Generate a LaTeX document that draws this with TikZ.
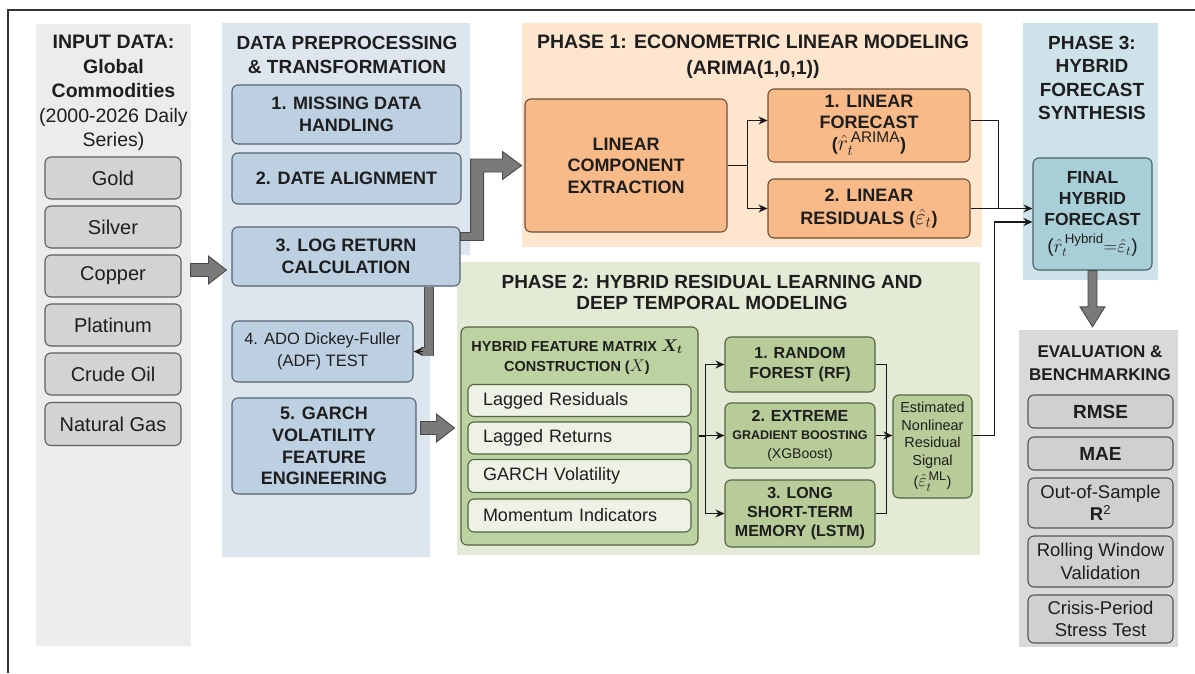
\RequirePackage{fix-cm}
\documentclass[tikz,border=0pt]{standalone}
\usepackage{amsmath}
\usepackage{fontspec}
\setmainfont{Liberation Sans}
\usetikzlibrary{arrows.meta,calc}
\newcommand\fs[2]{\fontsize{#1}{#2}\selectfont}
\definecolor{txt}{HTML}{1E1E1E}
\definecolor{inbgc}{HTML}{ECECEC}
\definecolor{infill}{HTML}{D3D3D3}
\definecolor{indraw}{HTML}{5E5E5E}
\definecolor{prebgc}{HTML}{DDE6EF}
\definecolor{prefill}{HTML}{BDD0E2}
\definecolor{predraw}{HTML}{56626E}
\definecolor{pabg}{HTML}{FDE5CE}
\definecolor{pafill}{HTML}{F7BA88}
\definecolor{padraw}{HTML}{6E4D35}
\definecolor{pbbg}{HTML}{E3EBD7}
\definecolor{pbfill}{HTML}{BDD2A1}
\definecolor{pbinner}{HTML}{EDF1E6}
\definecolor{pbmod}{HTML}{B7CC99}
\definecolor{pbdraw}{HTML}{53633F}
\definecolor{pcbg}{HTML}{CEE3E9}
\definecolor{pcfill}{HTML}{A8CED8}
\definecolor{pcdraw}{HTML}{466168}
\definecolor{evbgc}{HTML}{D9D9D9}
\definecolor{evfill}{HTML}{D0D0D0}
\definecolor{evdraw}{HTML}{555555}
\definecolor{arrfill}{HTML}{7A7A7A}
\definecolor{arrdark}{HTML}{4A4A4A}
% horizontal block arrow: y from start, tip x from end
\newcommand\blkH[2]{\path[blk] let \p1=(#1), \p2=(#2) in
  (\x1,{\y1+6.5pt}) -- ({\x2-18pt},{\y1+6.5pt}) -- ({\x2-18pt},{\y1+14pt}) -- (\x2,\y1)
  -- ({\x2-18pt},{\y1-14pt}) -- ({\x2-18pt},{\y1-6.5pt}) -- (\x1,{\y1-6.5pt}) -- cycle;}
% vertical (downward) block arrow: x from start, tip y from end
\newcommand\blkV[2]{\path[blk] let \p1=(#1), \p2=(#2) in
  ({\x1-4.5pt},\y1) -- ({\x1-4.5pt},{\y2+20pt}) -- ({\x1-12.5pt},{\y2+20pt}) -- (\x1,\y2)
  -- ({\x1+12.5pt},{\y2+20pt}) -- ({\x1+4.5pt},{\y2+20pt}) -- ({\x1+4.5pt},\y1) -- cycle;}
\begin{document}
\begin{tikzpicture}[x=1pt,y=-1pt,
  sz/.style 2 args={minimum width=#1pt, minimum height=#2pt},
  bg/.style={draw=none, inner sep=0pt},
  ttl/.style={align=center, inner sep=0pt, text=txt, font=\bfseries\fs{19}{24}},
  boxbase/.style={rounded corners=6pt, line width=1.1pt, inner sep=0pt, align=center, text=txt},
  inb/.style={boxbase, draw=indraw, fill=infill, font=\fs{20}{24}},
  preb/.style={boxbase, draw=predraw, fill=prefill, font=\bfseries\fs{18}{22}},
  pab/.style={boxbase, draw=padraw, fill=pafill, font=\bfseries\fs{18}{21}},
  fmb/.style={boxbase, draw=pbdraw, fill=pbfill},
  innb/.style={boxbase, draw=pbdraw, fill=pbinner, font=\fs{18}{22}, align=left,
    text width=193pt, inner xsep=15pt, minimum height=32pt},
  modb/.style={boxbase, draw=pbdraw, fill=pbmod, font=\bfseries\fs{16}{19}},
  finb/.style={boxbase, draw=pcdraw, fill=pcfill},
  evb/.style={boxbase, draw=evdraw, fill=evfill, font=\fs{18.5}{22.5}},
  blk/.style={fill=arrfill, draw=arrdark, line width=0.9pt, line join=miter},
  conn/.style={draw=black!90, line width=1.3pt},
  arr/.style={conn, -{Stealth[length=9pt,width=8pt]}},
  gbar/.style={draw=arrdark, double=arrfill, double distance=8pt, line width=0.9pt},
  frame/.style={draw=black!80, line width=1.3pt}
]
\useasboundingbox (0,0) rectangle (1195,673);
\fill[white] (0,0) rectangle (1195,673);

% ---------- backgrounds ----------
\node[bg, fill=inbgc, sz={155}{622}] (inbg) at (113.5,335) {};
\fill[prebgc] (222,23) -- (470,23) -- (470,255) -- (430,255) -- (430,557) -- (222,557) -- cycle;
\node[bg, fill=pabg, sz={460}{224}] (pabgn) at (752,135) {};
\node[bg, fill=pbbg, sz={523}{293}] (pbbgn) at (718.5,408.5) {};
\node[bg, fill=pcbg, sz={135}{257}] (pcbgn) at (1090.5,151.5) {};
\node[bg, fill=evbgc, sz={159}{317}] (evbgn) at (1098.5,488.5) {};

% ---------- input data ----------
\node[ttl, font=\fs{19.5}{24.5}] (intitle) at (113.5,93)
  {\textbf{INPUT DATA:}\\\textbf{Global}\\\textbf{Commodities}\\(2000-2026 Daily\\Series)};
\node[inb, sz={136}{42}] (gold) at (113,178) {Gold};
\node[inb, sz={136}{42}] (silver) at (113,227) {Silver};
\node[inb, sz={136}{42}] (copper) at (113,276) {Copper};
\node[inb, sz={136}{42}] (plat) at (113,325) {Platinum};
\node[inb, sz={136}{42}] (crude) at (113,374) {Crude Oil};
\node[inb, sz={136}{43}] (gas) at (113,424) {Natural Gas};

% ---------- preprocessing ----------
\node[ttl] (pretitle) at (347,55) {DATA PREPROCESSING\\\& TRANSFORMATION};
\node[preb, sz={229}{59}] (b1) at (346.5,114.5) {1. MISSING DATA\\HANDLING};
\node[preb, sz={229}{51}] (b2) at (346.5,178.5) {2. DATE ALIGNMENT};
\node[preb, sz={228}{59}] (b3) at (346,256.5) {3. LOG RETURN\\CALCULATION};
\node[preb, sz={181}{61}, font=\fs{16.5}{22}] (b4) at (322.5,351.5) {4. ADO Dickey-Fuller\\(ADF) TEST};
\node[preb, sz={184}{96}, font=\bfseries\fs{18}{21.7}] (b5) at (324,446) {5. GARCH\\VOLATILITY\\FEATURE\\ENGINEERING};

% ---------- phase 1 ----------
\node[ttl, font=\bfseries\fs{19.5}{26.5}] (patitle) at (753,56.5) {PHASE 1: ECONOMETRIC LINEAR MODELING\\(ARIMA(1,0,1))};
\node[pab, sz={202}{133}, font=\bfseries\fs{18}{21.5}] (lce) at (626,165.5) {LINEAR\\COMPONENT\\EXTRACTION};
\node[pab, sz={202}{73}] (f1) at (869,125.5) {1. LINEAR\\FORECAST\\[1pt]({\fs{22}{21}$\hat{r}_t^{\,\text{\normalfont ARIMA}}$})};
\node[pab, sz={202}{59}, font=\bfseries\fs{18}{23}] (f2) at (869,208.5) {2. LINEAR\\RESIDUALS ({\fs{22}{23}$\hat{\varepsilon}_t$})};

% ---------- phase 2 ----------
\node[ttl, font=\bfseries\fs{19}{21.5}] (pbtitle) at (712,292.5) {PHASE 2: HYBRID RESIDUAL LEARNING AND\\DEEP TEMPORAL MODELING};
\node[fmb, sz={237}{218}] (fm) at (579.5,436) {};
\node[ttl, font=\bfseries\fs{14.5}{20}] (fmtitle) at (577,357) {HYBRID FEATURE MATRIX {\fs{17}{20}$\boldsymbol{X_t}$}\\CONSTRUCTION ({\fs{17}{20}$X$})};
\node[innb] (lres) at (579.5,400.5) {Lagged Residuals};
\node[innb] (lret) at (579.5,438) {Lagged Returns};
\node[innb, minimum height=33pt] (gvol) at (579.5,476) {GARCH Volatility};
\node[innb, minimum height=33pt] (mom) at (579.5,515.5) {Momentum Indicators};
\node[modb, sz={150}{55}, font=\bfseries\fs{16}{20}] (rf) at (800,364.5) {1. RANDOM\\FOREST (RF)};
\node[modb, sz={150}{65}, font=\fs{16}{18.5}] (xgb) at (800,435.5)
  {\textbf{2. EXTREME}\\{\bfseries\fs{12.5}{18.5}GRADIENT BOOSTING}\\{\fs{14}{17}(XGBoost)}};
\node[modb, sz={150}{67}] (lstm) at (800,513.5) {3. LONG\\SHORT-TERM\\MEMORY (LSTM)};
\node[modb, sz={79}{103}, font=\fs{14.5}{17.8}] (est) at (932.5,446.5)
  {Estimated\\Nonlinear\\Residual\\Signal\\[2pt]({\fs{18}{18}$\hat{\varepsilon}_t^{\,\text{\normalfont ML}}$})};

% ---------- phase 3 ----------
\node[ttl, font=\bfseries\fs{19}{23.3}] (pctitle) at (1092,78) {PHASE 3:\\HYBRID\\FORECAST\\SYNTHESIS};
\node[finb, sz={119}{112}, font=\bfseries\fs{17.5}{21}] (fin) at (1092.5,214)
  {FINAL\\HYBRID\\FORECAST\\[6pt]{\normalfont\fs{19}{21}($\hat{r}_t^{\,\text{\normalfont Hybrid}}{=}\hat{\varepsilon}_t$)}};

% ---------- evaluation ----------
\node[ttl, font=\bfseries\fs{17}{23}] (evtitle) at (1100,363.5) {EVALUATION \&\\BENCHMARKING};
\node[evb, sz={145}{33}, font=\bfseries\fs{19}{22}] (rmse) at (1100.5,411.5) {RMSE};
\node[evb, sz={145}{33}, font=\bfseries\fs{19}{22}] (mae) at (1100.5,453.5) {MAE};
\node[evb, sz={145}{50}] (oos) at (1100.5,503) {Out-of-Sample\\\textbf{R}\textsuperscript{2}};
\node[evb, sz={145}{51}] (rwv) at (1100.5,561.5) {Rolling Window\\Validation};
\node[evb, sz={145}{48}] (cps) at (1100.5,619) {Crisis-Period\\Stress Test};

% ---------- block arrows ----------
\blkH{$(copper.east)+(9,-6)$}{$(b3.west)+(-5,0)$}
\blkH{$(b5.east)+(4,-18)$}{$(fm.west)+(-6,0)$}
\blkV{fin.south}{$(evbgn.north)+(0,-3)$}
\path[blk] let \p1=($(b3.east)+(0,-20)$), \p2=($(lce.west)+(-3,0)$) in
  (\x1,{\y1+4pt}) -- ({\x1+10pt},{\y1+4pt}) -- ({\x1+10pt},{\y2+6.5pt}) -- ({\x2-19pt},{\y2+6.5pt})
  -- ({\x2-19pt},{\y2+14pt}) -- (\x2,\y2) -- ({\x2-19pt},{\y2-14pt}) -- ({\x2-19pt},{\y2-6.5pt})
  -- ({\x1+23pt},{\y2-6.5pt}) -- ({\x1+23pt},{\y1-4pt}) -- (\x1,{\y1-4pt}) -- cycle;
\draw[gbar] ($(b3.south)+(83,0)$) |- ($(b4.east)+(7,0)$);
\draw[arr] ($(b4.east)+(9,0)$) -- (b4.east);

% ---------- phase 1 connectors ----------
\coordinate (j1) at ($(lce.east)+(20,0)$);
\draw[conn] (lce.east) -- (j1);
\draw[arr] (j1) |- ([yshift=5pt]f1.west);
\draw[arr] (j1) |- (f2.west);
\coordinate (j2) at ($(f2.east)+(28,0)$);
\draw[conn] ([yshift=5pt]f1.east) -| (j2);
\draw[arr] (f2.east) -- (f2.east -| fin.west);

% ---------- phase 2 connectors ----------
\coordinate (j4) at ($(fm.east)+(7,0)$);
\draw[conn] (fm.east) -- (j4);
\draw[arr] (j4) |- (rf.west);
\draw[arr] (j4) |- (xgb.west);
\draw[arr] (j4) |- (lstm.west);
\coordinate (j5) at ($(xgb.east)+(11,0)$);
\draw[conn] (rf.east) -| (j5);
\draw[conn] (lstm.east) -| (j5);
\draw[arr] (xgb.east) -- (xgb.east -| est.west);
\coordinate (j3) at ($(xgb.east -| est.east)+(22,0)$);
\draw[arr] (xgb.east -| est.east) -- (j3) |- ([yshift=-8pt]fin.west);

% ---------- frame ----------
\draw[frame] (8,673) -- (8,10) -- (1195,10);
\end{tikzpicture}
\end{document}
